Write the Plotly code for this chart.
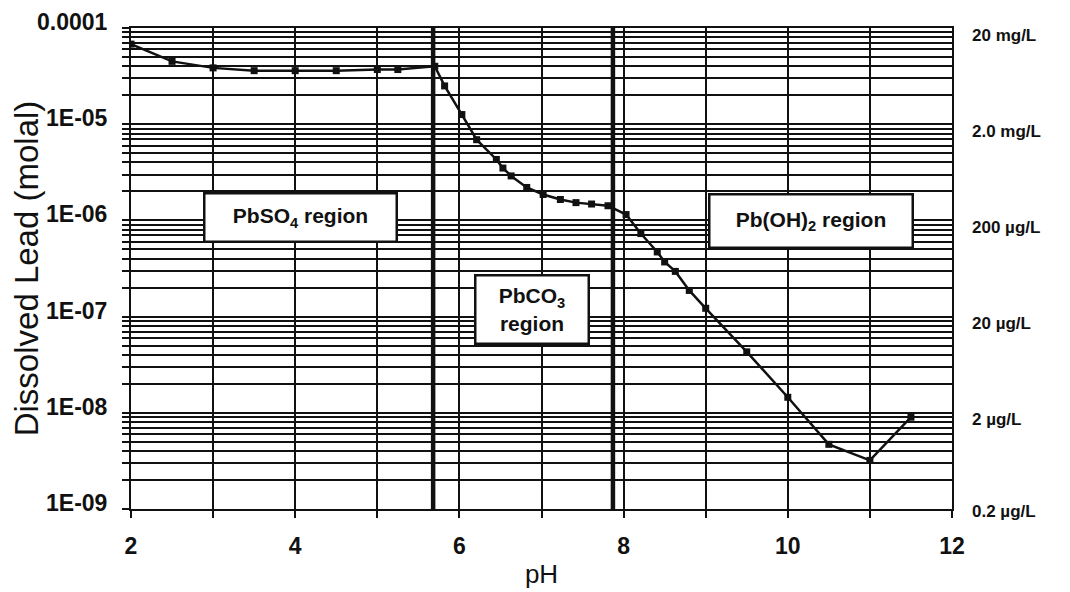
import plotly.graph_objects as go
import numpy as np

# ---- data ----
ph = [2.0, 2.5, 3.0, 3.5, 4.0, 4.5, 5.0, 5.25, 5.7, 5.82, 6.03, 6.21, 6.45, 6.53,
      6.63, 6.82, 7.02, 7.23, 7.42, 7.61, 7.81, 8.03, 8.21, 8.41, 8.5, 8.63,
      8.8, 9.0, 9.5, 10.0, 10.5, 11.0, 11.5]
lead_molal = [6.8e-5, 4.5e-5, 3.85e-5, 3.6e-5, 3.6e-5, 3.6e-5, 3.7e-5, 3.7e-5,
              4.0e-5, 2.5e-5, 1.26e-5, 6.9e-6, 4.3e-6, 3.5e-6, 2.9e-6, 2.2e-6,
              1.86e-6, 1.65e-6, 1.53e-6, 1.48e-6, 1.42e-6, 1.15e-6, 7.3e-7,
              4.7e-7, 3.7e-7, 2.95e-7, 1.87e-7, 1.22e-7, 4.3e-8, 1.45e-8,
              4.7e-9, 3.2e-9, 9.0e-9]

boundary_ph = [5.68, 7.87]

decades = [1e-9, 1e-8, 1e-7, 1e-6, 1e-5, 1e-4]
decade_labels = ["1E-09", "1E-08", "1E-07", "1E-06", "1E-05", "0.0001"]
right_labels = ["0.2 µg/L", "2 µg/L", "20 µg/L", "200 µg/L", "2.0 mg/L", "20 mg/L"]

x_ticks = list(range(2, 13))
x_ticktext = [str(v) if v % 2 == 0 else "" for v in x_ticks]

regions = [
    dict(text="PbSO<sub>4</sub> region", x=4.06, y=1.06e-6, w=186, h=42),
    dict(text="PbCO<sub>3</sub><br>region", x=6.89, y=1.18e-7, w=107, h=62),
    dict(text="Pb(OH)<sub>2</sub> region", x=10.28, y=9.9e-7, w=197, h=47),
]

# y tick values: all 1..9 multiples in each decade
y_tickvals, y_ticktext = [], []
for d, lab in zip(decades[:-1], decade_labels[:-1]):
    for m in range(1, 10):
        y_tickvals.append(d * m)
        y_ticktext.append(lab if m == 1 else "")
y_tickvals.append(decades[-1])
y_ticktext.append(decade_labels[-1])

FONT = "Arial, Liberation Sans, Helvetica, sans-serif"
INK = "#111111"

fig = go.Figure()
fig.add_trace(go.Scatter(
    x=ph, y=lead_molal, mode="lines+markers",
    line=dict(color=INK, width=2.5),
    marker=dict(symbol="square", size=7, color=INK),
    showlegend=False, hoverinfo="x+y",
))

for b in boundary_ph:
    fig.add_shape(type="line", xref="x", yref="paper", x0=b, x1=b, y0=0, y1=1,
                  line=dict(color=INK, width=4.5))

for r in regions:
    fig.add_annotation(x=r["x"], y=np.log10(r["y"]), xref="x", yref="y",
                       text="<b>" + r["text"] + "</b>", showarrow=False,
                       font=dict(family=FONT, size=21, color=INK),
                       bgcolor="white", bordercolor=INK, borderwidth=2.5,
                       borderpad=2, width=r["w"], height=r["h"])

for v, lab in zip(decades, right_labels):
    fig.add_annotation(x=1.0, y=np.log10(v), xref="paper", yref="y",
                       xanchor="left", xshift=18, yshift=-7 if v > 1e-9 else -2,
                       text="<b>" + lab + "</b>", showarrow=False,
                       font=dict(family=FONT, size=17, color=INK))

fig.update_layout(
    width=1070, height=592,
    margin=dict(l=123, r=126, t=20, b=91),
    paper_bgcolor="white", plot_bgcolor="white",
    font=dict(family=FONT, color=INK),
    xaxis=dict(
        range=[2, 12], tickvals=x_ticks, ticktext=x_ticktext,
        showgrid=True, gridcolor=INK, gridwidth=2,
        showline=True, linecolor=INK, linewidth=2, mirror=True,
        ticks="outside", ticklen=7, tickwidth=2, tickcolor=INK,
        ticklabelstandoff=8,
        tickfont=dict(family=FONT, size=23, color=INK, weight="bold"),
        title=dict(text="pH", font=dict(family=FONT, size=26, color=INK), standoff=7),
        zeroline=False, automargin=False,
    ),
    yaxis=dict(
        type="log", range=[-9, -4], tickvals=y_tickvals, ticktext=y_ticktext,
        showgrid=True, gridcolor=INK, gridwidth=1.5,
        showline=True, linecolor=INK, linewidth=2, mirror=True,
        ticks="outside", ticklen=7, tickwidth=1.5, tickcolor=INK,
        ticklabelstandoff=10, ticklabelshift=-6,
        tickfont=dict(family=FONT, size=23, color=INK, weight="bold"),
        title=dict(text="Dissolved Lead (molal)", font=dict(family=FONT, size=33, color=INK), standoff=16),
        zeroline=False, automargin=False,
    ),
)

fig.write_html("out.html")
